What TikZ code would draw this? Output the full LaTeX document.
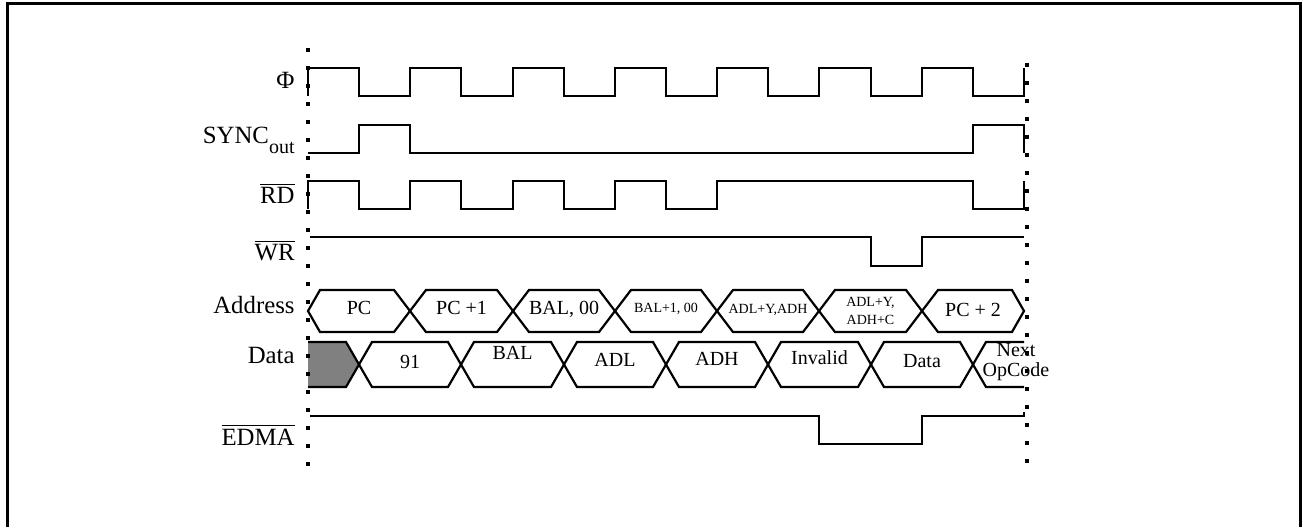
\documentclass[tikz,border=0pt]{standalone}
\usepackage{fontspec}
\setmainfont{Liberation Serif}

\begin{document}
\begin{tikzpicture}[x=0.5pt, y=-0.5pt,
  sig/.style={line width=1.1pt},
  bus/.style={line width=1.1pt, line join=miter},
  nome/.style={anchor=base east, inner sep=0pt, font=\fontsize{12.4}{14}\selectfont},
  val/.style={inner sep=0pt, align=center, font=\fontsize{10}{10}\selectfont},
  piccolo/.style={inner sep=0pt, align=center, font=\fontsize{7}{9}\selectfont},
  punti/.style={line width=2pt, dash pattern=on 2pt off 7pt}]

\useasboundingbox (0,0) rectangle (1303,527);

% cornice
\draw[line width=1.5pt] (7,527) -- (7,3) -- (1300,3) -- (1300,527);

% nomi dei segnali
\node[nome] (phi) at (295,88) {Φ};
\node[nome] (sync) at (295,143) {SYNC\raisebox{-5pt}{\fontsize{10}{10}\selectfont out}};
\node[nome] (rd) at (295,203) {$\overline{\mbox{RD}}$};
\node[nome] (wr) at (295,260) {$\overline{\mbox{WR}}$};
\node[nome] (addr) at (295,313) {Address};
\node[nome] (data) at (295,363) {Data};
\node[nome] (edma) at (295,445) {$\overline{\mbox{EDMA}}$};

% forme d'onda
\draw[sig] (308,96) -- (308,68) -- (359,68) -- (359,96) -- (410,96) -- (410,68) -- (461,68) -- (461,96)
  -- (513,96) -- (513,68) -- (564,68) -- (564,96) -- (615,96) -- (615,68) -- (666,68) -- (666,96)
  -- (717,96) -- (717,68) -- (768,68) -- (768,96) -- (819,96) -- (819,68) -- (871,68) -- (871,96)
  -- (922,96) -- (922,68) -- (973,68) -- (973,96) -- (1024,96) -- (1024,68);
\draw[sig] (308,153) -- (359,153) -- (359,125) -- (410,125) -- (410,153) -- (973,153) -- (973,125)
  -- (1024,125) -- (1024,153);
\draw[sig] (308,209) -- (308,181) -- (359,181) -- (359,209) -- (410,209) -- (410,181) -- (461,181) -- (461,209)
  -- (513,209) -- (513,181) -- (564,181) -- (564,209) -- (615,209) -- (615,181) -- (666,181) -- (666,209)
  -- (717,209) -- (717,181) -- (973,181) -- (973,209) -- (1024,209) -- (1024,181);
\draw[sig] (310,237) -- (871,237) -- (871,266) -- (922,266) -- (922,237) -- (1024,237);
\draw[sig] (310,416) -- (819,416) -- (819,444) -- (922,444) -- (922,416) -- (1024,416) -- (1024,412);

% bus indirizzi
\draw[bus] (308,311) -- (320,290) -- (394,290) -- (410,311) -- (394,332) -- (320,332) -- cycle;
\draw[bus] (410,311) -- (426,290) -- (497,290) -- (513,311) -- (497,332) -- (426,332) -- cycle;
\draw[bus] (513,311) -- (529,290) -- (599,290) -- (615,311) -- (599,332) -- (529,332) -- cycle;
\draw[bus] (615,311) -- (631,290) -- (701,290) -- (717,311) -- (701,332) -- (631,332) -- cycle;
\draw[bus] (717,311) -- (733,290) -- (803,290) -- (819,311) -- (803,332) -- (733,332) -- cycle;
\draw[bus] (819,311) -- (835,290) -- (906,290) -- (922,311) -- (906,332) -- (835,332) -- cycle;
\draw[bus] (922,311) -- (938,290) -- (1012,290) -- (1024,311) -- (1012,332) -- (938,332) -- cycle;

\node[val] (a1) at (359,308) {PC};
\node[val] (a2) at (461.5,308) {PC +1};
\node[val] (a3) at (564,309) {BAL, 00};
\node[piccolo] (a4) at (666,309) {BAL+1, 00};
\node[piccolo] (a5) at (768,310) {ADL+Y,ADH};
\node[piccolo] (a6) at (870.5,311) {ADL+Y,\\ADH+C};
\node[val] (a7) at (973,310) {PC + 2};

% bus dati
\fill[gray] (308,342) -- (346,342) -- (359,364.5) -- (346,387) -- (308,387) -- cycle;
\draw[bus] (308,342) -- (346,342) -- (359,364.5) -- (346,387) -- (308,387);
\draw[bus] (359,364.5) -- (372,342) -- (448,342) -- (461,364.5) -- (448,387) -- (372,387) -- cycle;
\draw[bus] (461,364.5) -- (474,342) -- (551,342) -- (564,364.5) -- (551,387) -- (474,387) -- cycle;
\draw[bus] (564,364.5) -- (577,342) -- (653,342) -- (666,364.5) -- (653,387) -- (577,387) -- cycle;
\draw[bus] (666,364.5) -- (679,342) -- (755,342) -- (768,364.5) -- (755,387) -- (679,387) -- cycle;
\draw[bus] (768,364.5) -- (781,342) -- (858,342) -- (871,364.5) -- (858,387) -- (781,387) -- cycle;
\draw[bus] (871,364.5) -- (884,342) -- (960,342) -- (973,364.5) -- (960,387) -- (884,387) -- cycle;
\draw[bus] (1024,342) -- (986,342) -- (973,364.5) -- (986,387) -- (1024,387);

\node[val] (d1) at (410,361.5) {91};
\node[val] (d2) at (512.5,353) {BAL};
\node[val] (d3) at (615,360) {ADL};
\node[val] (d4) at (717,358.5) {ADH};
\node[val] (d5) at (819.5,357.5) {Invalid};
\node[val] (d6) at (922,361.5) {Data};
\node[val] (d7) at (1016,362) {Next\\OpCode};

% linee tratteggiate
\draw[punti] (308,48) -- (308,470);
\draw[punti] (1027,63) -- (1027,470);

\end{tikzpicture}
\end{document}
